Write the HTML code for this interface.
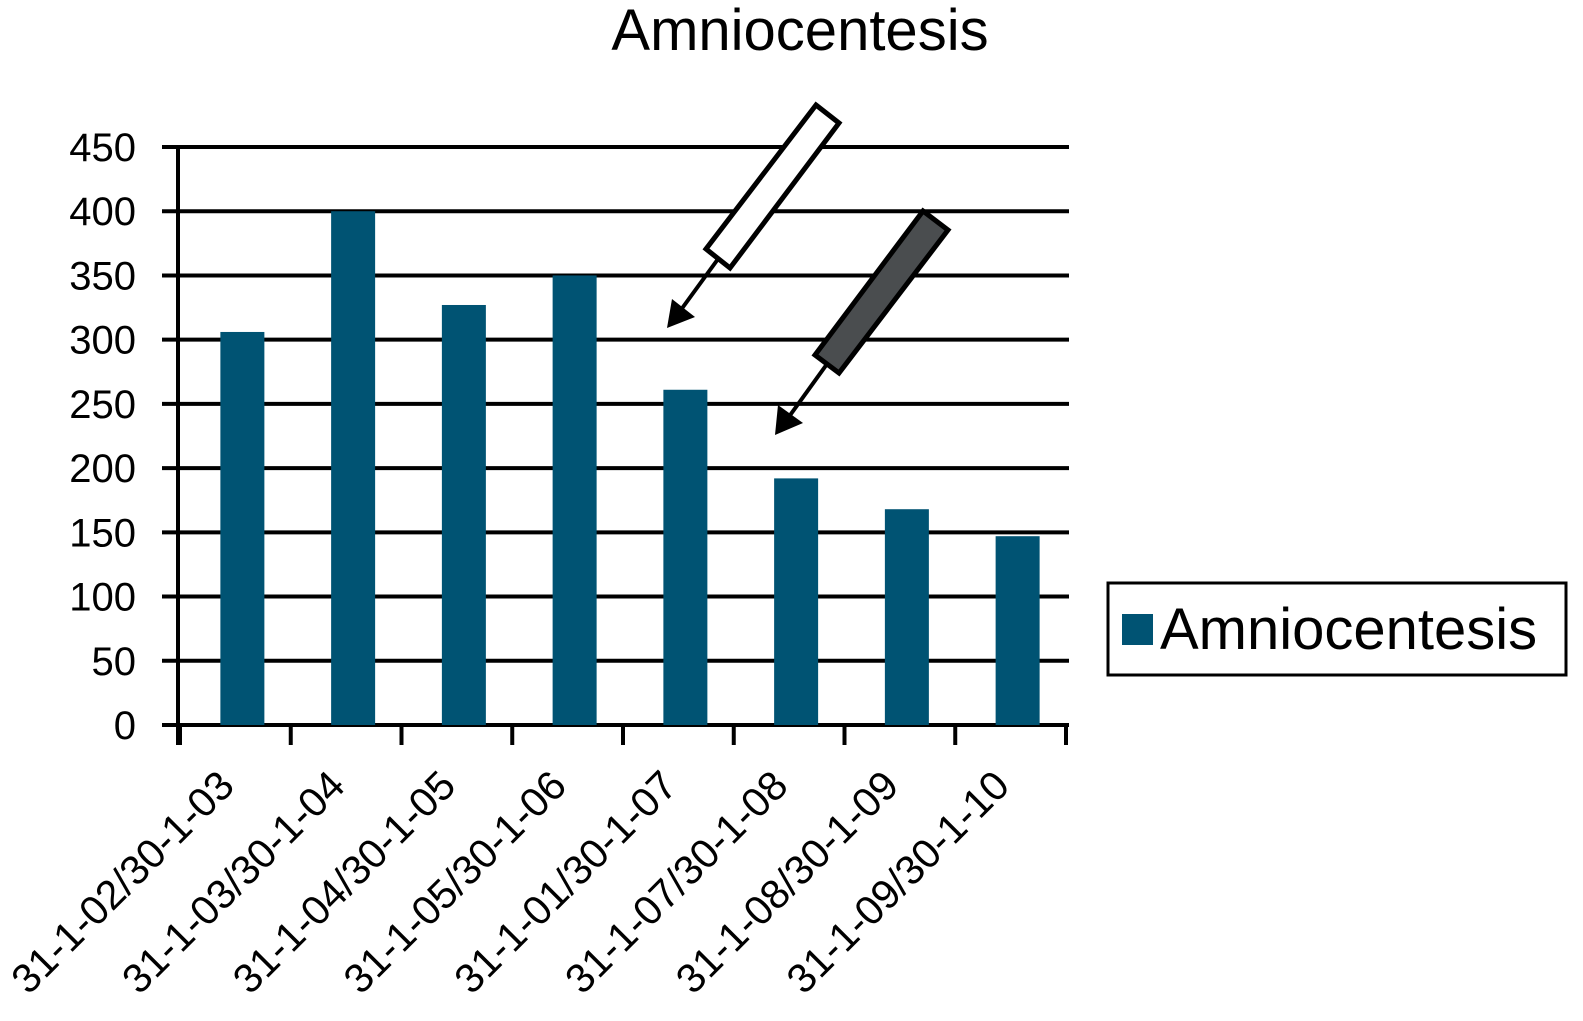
<!DOCTYPE html>
<html><head><meta charset="utf-8"><style>
body{margin:0;background:#fff;}
svg{display:block;font-family:"Liberation Sans",sans-serif;}
</style></head><body>
<svg width="1583" height="1021" viewBox="0 0 1583 1021">
<text x="800" y="50" font-size="58" text-anchor="middle">Amniocentesis</text>
<g id="grid"></g>
<g id="bars"></g>
<g id="xlabels"></g>
<g>
<polygon points="816,105 839,123 730,268 706,249" fill="#fff" stroke="#000" stroke-width="5"/>
<line x1="718" y1="259" x2="675" y2="318" stroke="#000" stroke-width="4"/>
<polygon points="667,328 672,299 695,317" fill="#000"/>
</g>
<g>
<polygon points="923,211 948,230 839,373 815,355" fill="#4a4d4f" stroke="#000" stroke-width="5"/>
<line x1="827" y1="364" x2="783" y2="425" stroke="#000" stroke-width="4"/>
<polygon points="775,435 778,405 803,423" fill="#000"/>
</g>
<g>
<rect x="1108" y="583" width="458" height="92" fill="#fff" stroke="#000" stroke-width="3"/>
<rect x="1122" y="614" width="31" height="31" fill="#005373"/>
<text x="1160" y="649" font-size="58">Amniocentesis</text>
</g>
</svg>
<script>
const categories=["31-1-02/30-1-03","31-1-03/30-1-04","31-1-04/30-1-05","31-1-05/30-1-06","31-1-01/30-1-07","31-1-07/30-1-08","31-1-08/30-1-09","31-1-09/30-1-10"];
const values=[306,400,327,350,261,192,168,147];
const yTicks=[0,50,100,150,200,250,300,350,400,450];
const NS="http://www.w3.org/2000/svg";
const x0=180,x1=1066,y0=725,yTop=147,ymax=450;
const yS=v=>y0-(y0-yTop)*v/ymax;
const band=(x1-x0)/categories.length;
const xS=i=>x0+band*(i+0.5)+7;
function mk(tag,attrs,parent){const e=document.createElementNS(NS,tag);for(const k in attrs)e.setAttribute(k,attrs[k]);parent.appendChild(e);return e;}
const grid=document.getElementById('grid');
yTicks.forEach(v=>{
 const l=mk('line',{x1:162,x2:1069,y1:yS(v),y2:yS(v),stroke:'#000','stroke-width':4},grid);
 
 
 const t=mk('text',{x:136,y:yS(v)+14,'font-size':40,'text-anchor':'end'},grid);
 t.textContent=v;
 
 
});
const ax=mk('line',{x1:178,x2:178,y1:145,y2:745,stroke:'#000','stroke-width':4},grid);


for(let i=0;i<=categories.length;i++){
 const tx=x0+band*i;
 const tk=mk('line',{x1:tx,x2:tx,y1:725,y2:745,stroke:'#000','stroke-width':4},grid);
 
 
}
const bars=document.getElementById('bars'),xl=document.getElementById('xlabels');
values.forEach((v,i)=>{
 const b=mk('rect',{x:xS(i)-22,y:yS(v),width:44,height:y0-yS(v),fill:'#005373'},bars);
 
 
 const cx=xS(i)-6,cy=788;
 const t=mk('text',{x:cx,y:cy,'font-size':41,'text-anchor':'end',transform:`rotate(-45 ${cx} ${cy})`},xl);
 t.textContent=categories[i];
 
 
});
</script>
</body></html>
